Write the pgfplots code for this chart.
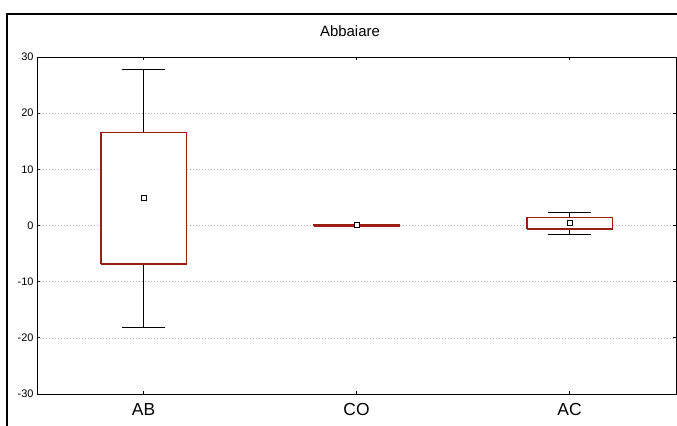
\documentclass[border=0pt]{standalone}
\usepackage{fontspec}
\setmainfont{Liberation Sans}
\usepackage{pgfplots}
\pgfplotsset{compat=1.18}
\definecolor{boxred}{RGB}{155,30,20}
\begin{document}
\begin{tikzpicture}[x=1bp,y=1bp]
\useasboundingbox (0,0) rectangle (677,425);
\draw[line width=1.5bp] (7,-10) -- (7,411) -- (700,411);
\begin{axis}[
  at={(37bp,31bp)}, anchor=south west,
  scale only axis, width=639bp, height=337bp,
  xmin=0.5, xmax=3.5, ymin=-30, ymax=30,
  xtick={1,2,3}, xticklabels={AB,CO,AC},
  ytick={-30,-20,...,30},
  tick align=inside, major tick length=3bp,
  tick style={black, line width=0.8bp},
  ymajorgrids, grid style={dash pattern=on 1bp off 2bp, black!30, line width=0.5bp},
  axis line style={line width=1bp},
  /pgf/number format/assume math mode=true,
  yticklabel style={font=\fontsize{11}{12}\selectfont},
  xticklabel style={font=\fontsize{17.5}{18}\selectfont, anchor=base, yshift=-21bp},
  title={Abbaiare},
  title style={font=\fontsize{15}{16}\selectfont, at={(0.5,1)}, anchor=base, yshift=14.3bp, xshift=-6.5bp},
]
% whiskers
\addplot[black, line width=1bp] coordinates {(1,16.5) (1,27.7)};
\addplot[black, line width=1bp] coordinates {(0.9,27.7) (1.1,27.7)};
\addplot[black, line width=1bp] coordinates {(1,-6.85) (1,-18.1)};
\addplot[black, line width=1bp] coordinates {(0.9,-18.1) (1.1,-18.1)};
\addplot[black, line width=1bp] coordinates {(3,1.39) (3,2.35)};
\addplot[black, line width=1bp] coordinates {(2.9,2.35) (3.1,2.35)};
\addplot[black, line width=1bp] coordinates {(3,-0.62) (3,-1.69)};
\addplot[black, line width=1bp] coordinates {(2.9,-1.69) (3.1,-1.69)};
% boxes
\addplot[boxred, line width=1.2bp, fill=white] coordinates {(0.8,-6.85) (1.2,-6.85) (1.2,16.5) (0.8,16.5) (0.8,-6.85)};
\addplot[boxred, line width=1.2bp, fill=white] coordinates {(1.8,-0.1) (2.2,-0.1) (2.2,0.1) (1.8,0.1) (1.8,-0.1)};
\addplot[boxred, line width=1.2bp, fill=white] coordinates {(2.8,-0.62) (3.2,-0.62) (3.2,1.39) (2.8,1.39) (2.8,-0.62)};
% means
\addplot[only marks, mark=square*, mark size=2.5bp, mark options={draw=black, fill=white, line width=1bp}] coordinates {(1,4.9) (2,0.05) (3,0.5)};
\end{axis}
\end{tikzpicture}
\end{document}
